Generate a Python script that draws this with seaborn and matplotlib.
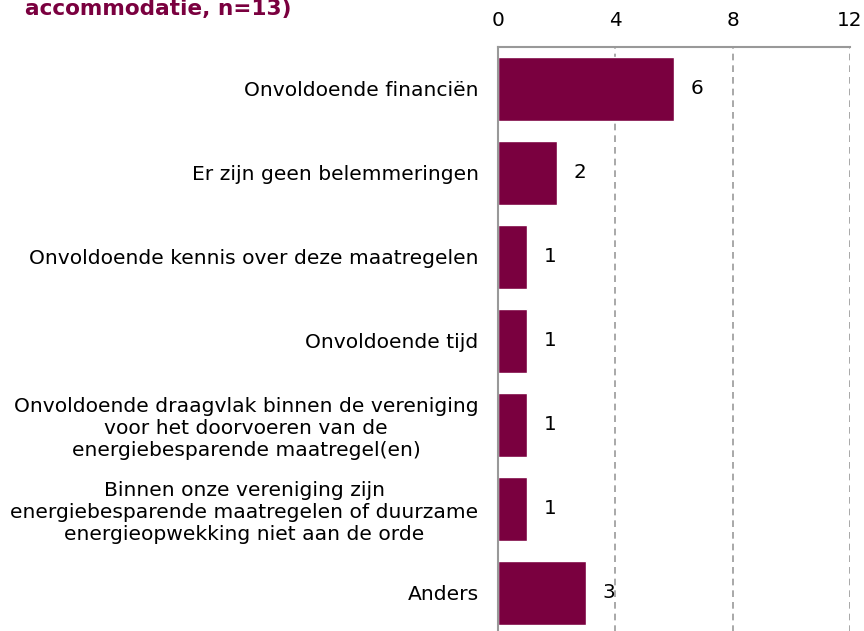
import matplotlib
matplotlib.use("Agg")
import matplotlib.pyplot as plt
import seaborn as sns
import pandas as pd

categories = [
    "Onvoldoende financiën",
    "Er zijn geen belemmeringen",
    "Onvoldoende kennis over deze maatregelen",
    "Onvoldoende tijd",
    "Onvoldoende draagvlak binnen de vereniging\nvoor het doorvoeren van de\nenergiebesparende maatregel(en)",
    "Binnen onze vereniging zijn\nenergiebesparende maatregelen of duurzame\nenergieopwekking niet aan de orde",
    "Anders",
]
counts = [6, 2, 1, 1, 1, 1, 3]
x_ticks = [0, 4, 8, 12]
title = "accommodatie, n=13)"

bar_color = "#7a003f"

sns.set_style("white")
plt.rcParams["font.family"] = ["DejaVu Sans"]
plt.rcParams["text.color"] = "black"
plt.rcParams["xtick.color"] = "black"
plt.rcParams["ytick.color"] = "black"

df = pd.DataFrame({"cat": categories, "n": counts})

fig = plt.figure(figsize=(8.64, 6.31), dpi=100)
ax = fig.add_axes([498 / 864, -4 / 631, 352 / 864, 588 / 631])

sns.barplot(data=df, x="n", y="cat", color=bar_color, width=0.76,
            saturation=1, ax=ax, zorder=3)

ax.set_xlim(0, 12)
ax.set_xticks(x_ticks)
ax.xaxis.tick_top()
ax.tick_params(axis="x", length=0, pad=12, labelsize=14.4)
ax.tick_params(axis="y", length=0, pad=14, labelsize=14.6)
for lab in ax.get_yticklabels():
    lab.set_horizontalalignment("right")
    lab.set_multialignment("center")
    lab.set_linespacing(1.2)
ax.set_xlabel("")
ax.set_ylabel("")

ax.grid(axis="x", color="#999999", linestyle=(0, (4, 3)), linewidth=1.2, zorder=1)
ax.grid(axis="y", visible=False)
for side in ["right", "bottom"]:
    ax.spines[side].set_visible(False)
for side in ["top", "left"]:
    ax.spines[side].set_color("#999999")
    ax.spines[side].set_linewidth(1.5)
    ax.spines[side].set_zorder(4)

for cont in ax.containers:
    ax.bar_label(cont, labels=[str(v) for v in counts], padding=12,
                 fontsize=14.4, color="black")

fig.text(25 / 864, 1 - 15 / 631, title, fontsize=15.6, fontweight="bold",
         color=bar_color, va="baseline", ha="left")

fig.savefig("out.png", dpi=100)
